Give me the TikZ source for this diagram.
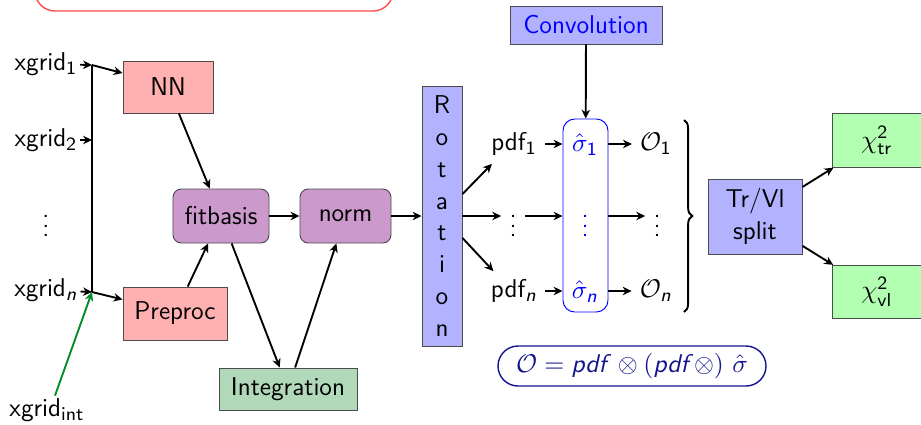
\documentclass[tikz,border=0pt]{standalone}
\definecolor{netpink}{RGB}{255, 176, 176}
\definecolor{fitpurple}{RGB}{204, 153, 204}
\definecolor{intgreen}{RGB}{178, 216, 186}
\definecolor{rotblue}{RGB}{178, 178, 255}
\definecolor{chigreen}{RGB}{178, 255, 178}
\definecolor{formnavy}{RGB}{20, 20, 140}
\definecolor{gridgreen}{RGB}{0, 140, 40}
\usepackage{tikz}
\usetikzlibrary{arrows.meta, positioning, calc, decorations.pathreplacing}
\usepackage{amsmath, amssymb}
\DeclareMathAlphabet{\mathsfsl}{OT1}{cmss}{m}{sl}

\begin{document}
\begin{tikzpicture}[x=0.015cm, y=-0.015cm,
    font=\fontsize{11pt}{13.6pt}\selectfont\sffamily,
    arr/.style={-{Stealth[length=3.8pt, width=3.6pt, inset=1.2pt]}, thick},
    netbox/.style={draw=black!70, fill=netpink, inner sep=0pt},
    fitbox/.style={draw=black!70, fill=fitpurple, rounded corners=3.5pt, inner sep=0pt, minimum height=0.81cm},
    bluebox/.style={draw=black!70, fill=rotblue, inner sep=0pt},
    chibox/.style={draw=black!70, fill=chigreen, inner sep=0pt, minimum width=1.35cm, minimum height=0.8cm}]
  \useasboundingbox (0,0) rectangle (921,424);
  \clip (0,0) rectangle (921,424);

  % Box cut off at the top
  \draw[red!70, semithick, rounded corners=0.3cm] (35,-40) rectangle (393,11);

  % Input grids
  \node[inner sep=1pt] (x1) at (46,64) {xgrid$_{\mathsf{1}}$};
  \node[inner sep=1pt] (x2) at (46,140) {xgrid$_{\mathsf{2}}$};
  \node (xdots) at (46,219) {$\vdots$};
  \node[inner sep=1pt] (xn) at (46,290) {xgrid$_{\mathsfsl{n}}$};
  \node[inner sep=1pt] (xint) at (47,410) {xgrid$_{\mathsf{int}}$};
  \coordinate (b1) at (92,65);
  \coordinate (b2) at (92,140);
  \coordinate (bn) at (92,292);
  \draw[thick] (b1) -- (bn);
  \draw[arr] (x1) -- (b1);
  \draw[arr] (x2) -- (b2);
  \draw[arr] (xn) -- (bn);
  \draw[arr, gridgreen] ([xshift=0.12cm]xint.north) -- (bn);

  % Network
  \node[netbox, minimum width=1.35cm, minimum height=0.78cm] (NN) at (168,87) {NN};
  \node[netbox, minimum width=1.56cm, minimum height=0.795cm] (pre) at (175,313.5) {Preproc};
  \node[fitbox, minimum width=1.44cm] (fit) at (221,216) {fitbasis};
  \node[fitbox, minimum width=1.365cm] (norm) at (345.5,216) {norm};
  \node[draw=black!70, fill=intgreen, inner sep=0pt, minimum width=2.07cm, minimum height=0.63cm] (integ) at (288,389) {Integration};
  \draw[arr] (b1) -- (NN.163);
  \draw[arr] (bn) -- (pre.165);
  \draw[arr] (NN) -- (fit);
  \draw[arr] (pre) -- (fit);
  \draw[arr] (fit) -- (integ);
  \draw[arr] (integ) -- (norm);
  \draw[arr] (fit) -- (norm);

  % Rotation
  \node[bluebox, minimum width=0.6cm, minimum height=3.9cm, align=center] (rot) at (442,216) {R\\o\\t\\a\\t\\i\\o\\n};
  \draw[arr] (norm) -- (rot);

  % PDFs, FK tables and observables
  \node (pdf1) at (514,144) {pdf$_{\mathsf{1}}$};
  \node (dotsP) at (513,219) {$\vdots$};
  \node (pdfn) at (514,291) {pdf$_{\mathsfsl{n}}$};
  \node[draw=blue, rounded corners=5pt, minimum width=0.675cm, minimum height=2.895cm, inner sep=0pt] (sigbox) at (585.5,215.5) {};
  \node[text=blue] (sig1) at (585,145) {$\hat{\sigma}_{\mathsf{1}}$};
  \node[text=blue] (sigd) at (585,219) {$\vdots$};
  \node[text=blue] (sign) at (585,292) {$\hat{\sigma}_{\mathsfsl{n}}$};
  \node (O1) at (656,144) {$\mathcal{O}_{\mathsf{1}}$};
  \node (dotsO) at (657,219) {$\vdots$};
  \node (On) at (656,291) {$\mathcal{O}_{\mathsfsl{n}}$};
  \node[bluebox, text=blue, minimum width=2.28cm, minimum height=0.57cm] (conv) at (586,25) {Convolution};
  \draw[arr] (rot.47) -- (pdf1.222);
  \draw[arr] (rot) -- (rot -| dotsP.west);
  \draw[arr] (rot.-47) -- (pdfn.136);
  \draw[arr] (pdf1) -- (pdf1 -| sigbox.west);
  \draw[arr] (dotsP.east |- rot) -- (rot -| sigbox.west);
  \draw[arr] (pdfn) -- (pdfn -| sigbox.west);
  \draw[arr] (O1 -| sigbox.east) -- (O1);
  \draw[arr] (sigbox.east |- rot) -- (rot -| dotsO.west);
  \draw[arr] (On -| sigbox.east) -- (On);
  \draw[arr] (conv) -- (sigbox);

  % Formula
  \node[draw=formnavy, text=formnavy, semithick, rounded corners=0.3cm, minimum width=4.02cm, minimum height=0.6cm, inner sep=2pt] (form) at (632,366) {$\mathcal{O} = \mathsfsl{pdf} \otimes (\mathsfsl{pdf}\otimes)\ \hat{\sigma}$};

  % Split and chi2
  \draw[thick, decorate, decoration={brace, amplitude=3.5pt}] (684,120) -- (684,312);
  \node[bluebox, minimum width=1.41cm, minimum height=1.125cm, align=center] (split) at (755,216.5) {Tr/Vl\\split};
  \node[chibox] (chitr) at (877,140.5) {$\chi^{\mathsf{2}}_{\mathsf{tr}}$};
  \node[chibox] (chivl) at (877,292) {$\chi^{\mathsf{2}}_{\mathsf{vl}}$};
  \draw[arr] (split) -- (chitr);
  \draw[arr] (split) -- (chivl);
\end{tikzpicture}
\end{document}
